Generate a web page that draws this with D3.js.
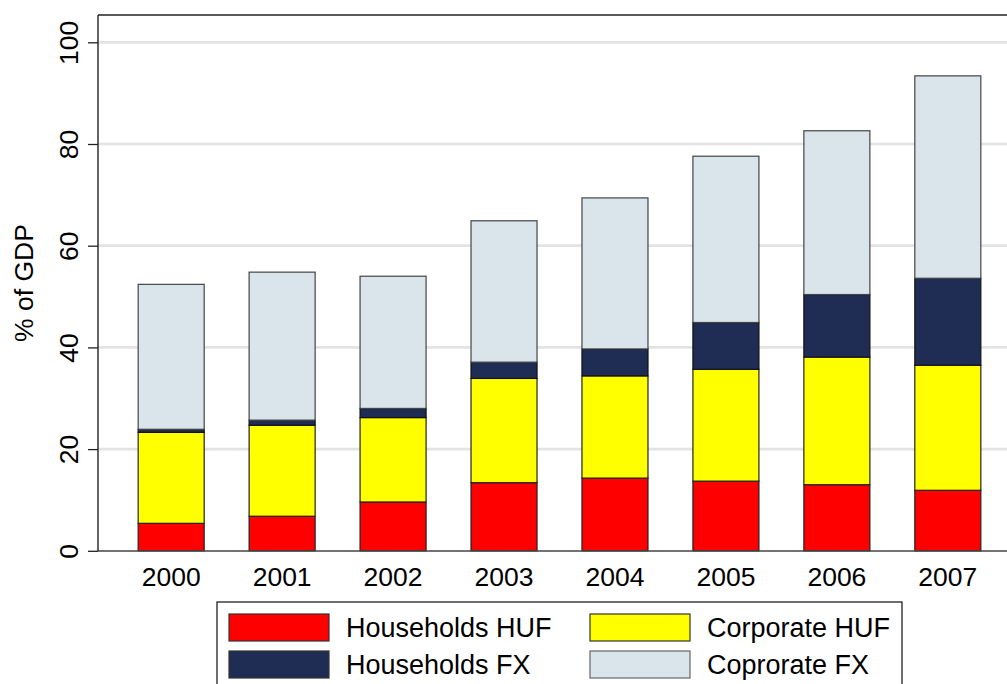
<!DOCTYPE html>
<html>
<head>
<meta charset="utf-8">
<script src="https://cdn.jsdelivr.net/npm/d3@7/dist/d3.min.js"></script>
<style>
  body { margin: 0; background: #fff; }
  svg { display: block; font-family: Arial, "Liberation Sans", sans-serif; }
</style>
</head>
<body>
<svg id="chart" width="1007" height="684"></svg>
<script>
  // Values, % of GDP
  var years = ['2000', '2001', '2002', '2003', '2004', '2005', '2006', '2007'];
  var householdsHUF = [5.4, 6.8, 9.6, 13.4, 14.3, 13.7, 13.0, 11.9];
  var corporateHUF = [17.9, 17.9, 16.6, 20.5, 20.1, 22.0, 25.1, 24.6];
  var householdsFX = [0.6, 1.0, 1.8, 3.2, 5.3, 9.2, 12.3, 17.1];
  var corporateFX = [28.5, 29.1, 26.0, 27.8, 29.7, 32.7, 32.2, 39.8];
  var yTicks = [0, 20, 40, 60, 80, 100];

  var seriesKeys = ['hhHUF', 'corpHUF', 'hhFX', 'corpFX'];
  var seriesNames = {hhHUF: 'Households HUF', corpHUF: 'Corporate HUF', hhFX: 'Households FX', corpFX: 'Coprorate FX'};
  var fills = {hhHUF: '#ff0000', corpHUF: '#ffff00', hhFX: '#1f2d55', corpFX: '#d9e5eb'};
  var strokes = {hhHUF: '#222', corpHUF: '#222', hhFX: '#111', corpFX: '#444'};

  var rows = years.map(function(y, i) {
    return {year: y, hhHUF: householdsHUF[i], corpHUF: corporateHUF[i], hhFX: householdsFX[i], corpFX: corporateFX[i]};
  });

  var svg = d3.select('#chart');
  var plotLeft = 98, plotTop = 15, plotBottom = 551, plotRight = 1021;

  var x = d3.scaleBand().domain(years).range([plotLeft, plotRight])
      .paddingInner(0.405).paddingOuter(0.362);
  var y = d3.scaleLinear().domain([0, 100]).range([550.8, 42.3]);

  // Gridlines
  svg.append('g').selectAll('line')
    .data(yTicks.filter(function(t) { return t > 0; }))
    .enter().append('line')
      .attr('x1', plotLeft).attr('x2', plotRight)
      .attr('y1', function(d) { return y(d); })
      .attr('y2', function(d) { return y(d); })
      .attr('stroke', '#e3e3e3')
      .attr('stroke-width', 2.7);

  // Stacked bars
  var stacked = d3.stack().keys(seriesKeys)(rows);
  svg.append('g').selectAll('g')
    .data(stacked)
    .enter().append('g')
      .attr('fill', function(d) { return fills[d.key]; })
      .attr('stroke', function(d) { return strokes[d.key]; })
    .selectAll('rect')
    .data(function(d) { return d; })
    .enter().append('rect')
      .attr('x', function(d) { return x(d.data.year); })
      .attr('width', x.bandwidth())
      .attr('y', function(d) { return y(d[1]); })
      .attr('height', function(d) { return y(d[0]) - y(d[1]); })
      .attr('stroke-width', 1.2);

  // Frame: top line and bottom axis
  svg.append('line').attr('x1', plotLeft).attr('x2', plotRight).attr('y1', plotTop).attr('y2', plotTop)
    .attr('stroke', '#222').attr('stroke-width', 1.4);
  svg.append('line').attr('x1', plotLeft).attr('x2', plotRight).attr('y1', plotBottom).attr('y2', plotBottom)
    .attr('stroke', '#444').attr('stroke-width', 1.6);

  var yAxis = svg.append('g')
    .attr('transform', 'translate(' + plotLeft + ',0)')
    .call(d3.axisLeft(y).tickValues(yTicks).tickSize(10).tickPadding(0).tickFormat(d3.format('d')));
  yAxis.select('.domain').attr('d', 'M0,' + plotTop + 'V' + plotBottom).attr('stroke', '#222').attr('stroke-width', 1.4);
  yAxis.selectAll('.tick line').attr('stroke', '#222').attr('stroke-width', 1.3);
  yAxis.selectAll('.tick text')
    .attr('x', null).attr('dy', null)
    .attr('transform', 'translate(-20,0) rotate(-90)')
    .attr('text-anchor', 'middle')
    .attr('font-size', 26.5)
    .attr('fill', '#000')
    .style('font-family', 'Arial, "Liberation Sans", sans-serif');

  // X labels
  var xAxis = svg.append('g')
    .attr('transform', 'translate(0,' + plotBottom + ')')
    .call(d3.axisBottom(x).tickSize(0).tickPadding(0));
  xAxis.select('.domain').remove();
  xAxis.selectAll('.tick text')
    .attr('y', 35).attr('dy', null)
    .attr('font-size', 26.5)
    .attr('fill', '#000')
    .style('font-family', 'Arial, "Liberation Sans", sans-serif');

  // Y axis title
  svg.append('text')
    .attr('transform', 'translate(33,283) rotate(-90)')
    .attr('text-anchor', 'middle')
    .attr('font-size', 26.5)
    .text('% of GDP');

  // Legend
  var legend = svg.append('g');
  legend.append('rect')
    .attr('x', 217).attr('y', 602).attr('width', 685).attr('height', 100)
    .attr('fill', '#fff').attr('stroke', '#222').attr('stroke-width', 1.3);

  var legendOrder = ['hhHUF', 'corpHUF', 'hhFX', 'corpFX'];
  var items = legend.selectAll('.item')
    .data(legendOrder)
    .enter().append('g')
      .attr('class', 'item')
      .attr('transform', function(d, i) {
        return 'translate(' + (i % 2 === 0 ? 229 : 590) + ',' + (i < 2 ? 614 : 651) + ')';
      });
  items.append('rect')
    .attr('width', 100).attr('height', 27)
    .attr('fill', function(d) { return fills[d]; })
    .attr('stroke', function(d) { return d === 'corpFX' ? '#666' : '#333'; })
    .attr('stroke-width', 1.2);
  items.append('text')
    .attr('x', 117).attr('y', 23)
    .attr('font-size', 27)
    .text(function(d) { return seriesNames[d]; });
</script>
</body>
</html>
